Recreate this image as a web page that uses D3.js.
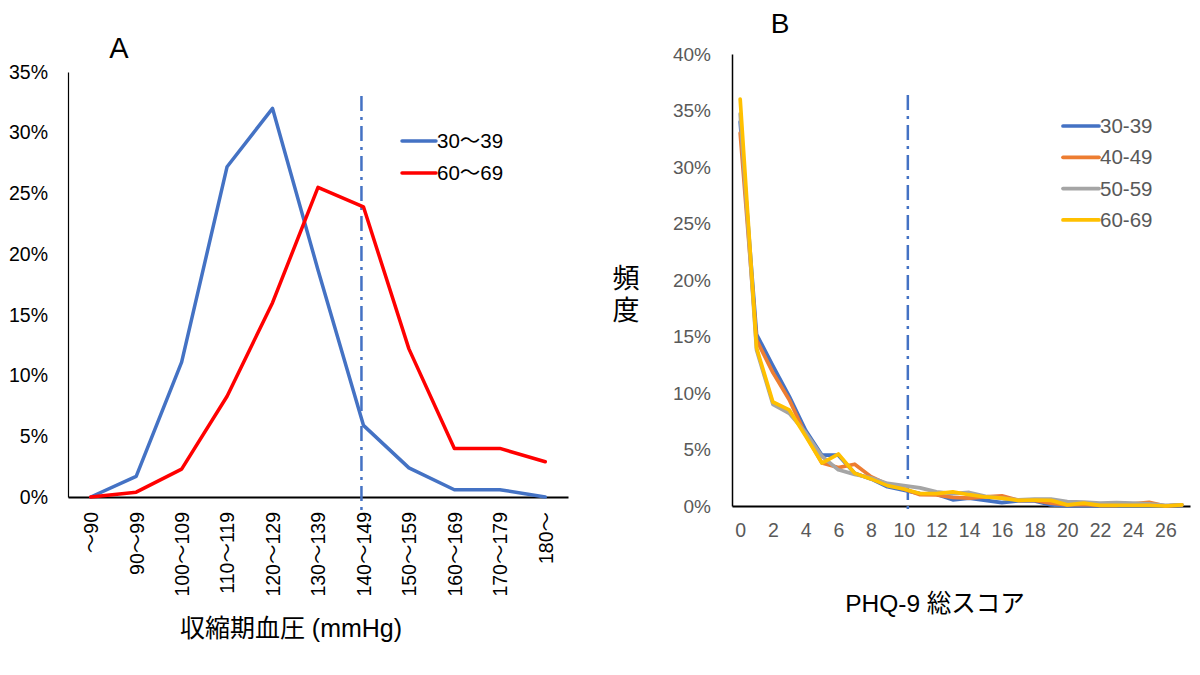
<!DOCTYPE html>
<html>
<head>
<meta charset="utf-8">
<script src="https://cdn.jsdelivr.net/npm/d3@7"></script>
<style>
  body { margin: 0; background: #fff; }
  svg text { font-family: "Liberation Sans", Arial, "Noto Sans CJK JP", sans-serif; }
</style>
</head>
<body>
<svg id="chart" width="1200" height="675"></svg>
<script>
// ---- panel A: systolic blood pressure ----
const bpCats = ["～90", "90～99", "100～109", "110～119", "120～129", "130～139",
                "140～149", "150～159", "160～169", "170～179", "180～"];
const bp30s = [0, 1.7, 11.1, 27.2, 32.0, 18.7, 5.9, 2.4, 0.6, 0.6, 0];
const bp60s = [0, 0.4, 2.3, 8.3, 16.0, 25.5, 23.9, 12.2, 4.0, 4.0, 2.9];
const bpSeries = ["30～39", "60～69"];
const bpTicks = [0, 5, 10, 15, 20, 25, 30, 35];
const bpCutoff = "140～149";

// ---- panel B: PHQ-9 total score ----
const phqScores = [0, 1, 2, 3, 4, 5, 6, 7, 8, 9, 10, 11, 12, 13, 14, 15, 16, 17, 18, 19, 20, 21, 22, 23, 24, 25, 26, 27];
const phq30 = [34.0, 15.2, 12.4, 9.7, 6.7, 4.5, 4.5, 2.9, 2.4, 1.7, 1.4, 1.1, 1.05, 0.55, 0.7, 0.5, 0.3, 0.45, 0.45, 0.1, 0.0, 0.05, 0, 0, 0, 0, 0, 0.1];
const phq40 = [33.0, 14.7, 11.8, 9.4, 6.3, 3.8, 3.4, 3.7, 2.6, 1.9, 1.5, 1.0, 0.98, 0.77, 0.7, 0.8, 0.9, 0.5, 0.5, 0.25, 0.1, 0.15, 0.05, 0.05, 0.2, 0.33, 0, 0.1];
const phq50 = [34.7, 13.8, 9.0, 8.2, 6.5, 4.4, 3.2, 2.8, 2.5, 2.0, 1.8, 1.6, 1.25, 1.1, 1.2, 0.85, 0.7, 0.55, 0.6, 0.62, 0.4, 0.35, 0.25, 0.3, 0.25, 0.18, 0.05, 0.1];
const phq60 = [36.0, 14.0, 9.2, 8.5, 6.2, 3.8, 4.6, 2.9, 2.4, 1.8, 1.5, 1.1, 1.1, 1.25, 1.0, 0.8, 0.7, 0.5, 0.53, 0.5, 0.1, 0.25, 0.05, 0.05, 0.05, 0.05, 0.0, 0.1];
const phqSeries = ["30-39", "40-49", "50-59", "60-69"];
const phqXTicks = [0, 2, 4, 6, 8, 10, 12, 14, 16, 18, 20, 22, 24, 26];
const phqYTicks = [0, 5, 10, 15, 20, 25, 30, 35, 40];
const phqCutoff = 10.25;

const svg = d3.select("#chart");

// ================= A =================
const xA = d3.scalePoint().domain(bpCats).range([68, 568]).padding(0.5);
const yA = d3.scaleLinear().domain([0, 35]).range([497, 72]);
const colA = ["#4472C4", "#FF0000"];

const gA = svg.append("g");

gA.append("g")
  .attr("transform", "translate(68,0)")
  .call(d3.axisLeft(yA).tickValues(bpTicks).tickSize(0).tickPadding(20).tickFormat(d => d + "%"))
  .call(g => g.select(".domain").attr("stroke", "#000").attr("stroke-width", 1.2))
  .call(g => g.selectAll("text").attr("font-size", 19.5).attr("fill", "#000"));

gA.append("g")
  .attr("transform", "translate(0,497)")
  .call(d3.axisBottom(xA).tickSize(0).tickSizeOuter(0))
  .call(g => g.select(".domain").attr("stroke", "#000").attr("stroke-width", 2))
  .call(g => g.selectAll("text")
    .attr("font-size", 19.5).attr("fill", "#000")
    .attr("transform", "rotate(-90)")
    .attr("text-anchor", "end")
    .attr("x", -15).attr("y", 0).attr("dy", "0.35em"));

// cutoff line
gA.append("line")
  .attr("x1", xA(bpCutoff) - 2).attr("x2", xA(bpCutoff) - 2)
  .attr("y1", 96).attr("y2", 516)
  .attr("stroke", "#4472C4").attr("stroke-width", 2.5)
  .attr("stroke-dasharray", "15,6,3,6");

const lineA = d3.line().x((d, i) => xA(bpCats[i])).y(d => yA(d));
[bp30s, bp60s].forEach((s, k) => {
  gA.append("path").datum(s)
    .attr("d", lineA).attr("fill", "none")
    .attr("stroke", colA[k]).attr("stroke-width", 3.5)
    .attr("stroke-linejoin", "round").attr("stroke-linecap", "round");
});

// legend A
bpSeries.forEach((name, k) => {
  const y = 141 + k * 32;
  gA.append("line").attr("x1", 402).attr("x2", 436).attr("y1", y).attr("y2", y)
    .attr("stroke", colA[k]).attr("stroke-width", 3.5).attr("stroke-linecap", "round");
  gA.append("text").attr("x", 437).attr("y", y).attr("dy", "0.35em")
    .attr("font-size", 20.5).attr("fill", "#000").text(name);
});

gA.append("text").attr("x", 119).attr("y", 58).attr("text-anchor", "middle")
  .attr("font-size", 29).attr("fill", "#000").text("A");

gA.append("text").attr("x", 291).attr("y", 637).attr("text-anchor", "middle")
  .attr("font-size", 25).attr("fill", "#000").text("収縮期血圧 (mmHg)");

// ================= B =================
const xB = d3.scaleLinear().domain([-0.5, 27.5]).range([732, 1190]);
const yB = d3.scaleLinear().domain([0, 40]).range([506, 54]);
const colB = ["#4472C4", "#ED7D31", "#A5A5A5", "#FFC000"];

const gB = svg.append("g");

gB.append("g")
  .attr("transform", "translate(732,0)")
  .call(d3.axisLeft(yB).tickValues(phqYTicks).tickSize(0).tickPadding(21).tickFormat(d => d + "%"))
  .call(g => g.select(".domain").attr("stroke", "#000").attr("stroke-width", 1.5))
  .call(g => g.selectAll("text").attr("font-size", 19).attr("fill", "#595959"));

gB.append("g")
  .attr("transform", "translate(0,506)")
  .call(d3.axisBottom(xB).tickValues(phqXTicks).tickSize(0).tickSizeOuter(0).tickPadding(17))
  .call(g => g.select(".domain").attr("stroke", "#000").attr("stroke-width", 2))
  .call(g => g.selectAll("text").attr("font-size", 19.5).attr("fill", "#595959"));

gB.append("line")
  .attr("x1", xB(phqCutoff)).attr("x2", xB(phqCutoff))
  .attr("y1", 95).attr("y2", 514)
  .attr("stroke", "#4472C4").attr("stroke-width", 2.5)
  .attr("stroke-dasharray", "15,6,3,6");

const lineB = d3.line().x((d, i) => xB(phqScores[i])).y(d => yB(d));
[phq30, phq40, phq50, phq60].forEach((s, k) => {
  gB.append("path").datum(s)
    .attr("d", lineB).attr("fill", "none")
    .attr("stroke", colB[k]).attr("stroke-width", 3.7)
    .attr("stroke-linejoin", "round").attr("stroke-linecap", "round");
});

// legend B
phqSeries.forEach((name, k) => {
  const y = 126 + k * 31.3;
  gB.append("line").attr("x1", 1063).attr("x2", 1099).attr("y1", y).attr("y2", y)
    .attr("stroke", colB[k]).attr("stroke-width", 3.7).attr("stroke-linecap", "round");
  gB.append("text").attr("x", 1100).attr("y", y).attr("dy", "0.35em")
    .attr("font-size", 20.5).attr("fill", "#595959").text(name);
});

gB.append("text").attr("x", 780).attr("y", 33).attr("text-anchor", "middle")
  .attr("font-size", 28).attr("fill", "#000").text("B");

gB.append("text").attr("x", 935).attr("y", 612).attr("text-anchor", "middle")
  .attr("font-size", 24.5).attr("fill", "#000").text("PHQ-9 総スコア");

const yLab = gB.append("text").attr("x", 626).attr("text-anchor", "middle")
  .attr("font-size", 27).attr("fill", "#000");
yLab.append("tspan").attr("x", 626).attr("y", 288).text("頻");
yLab.append("tspan").attr("x", 626).attr("y", 320).text("度");
</script>
</body>
</html>
